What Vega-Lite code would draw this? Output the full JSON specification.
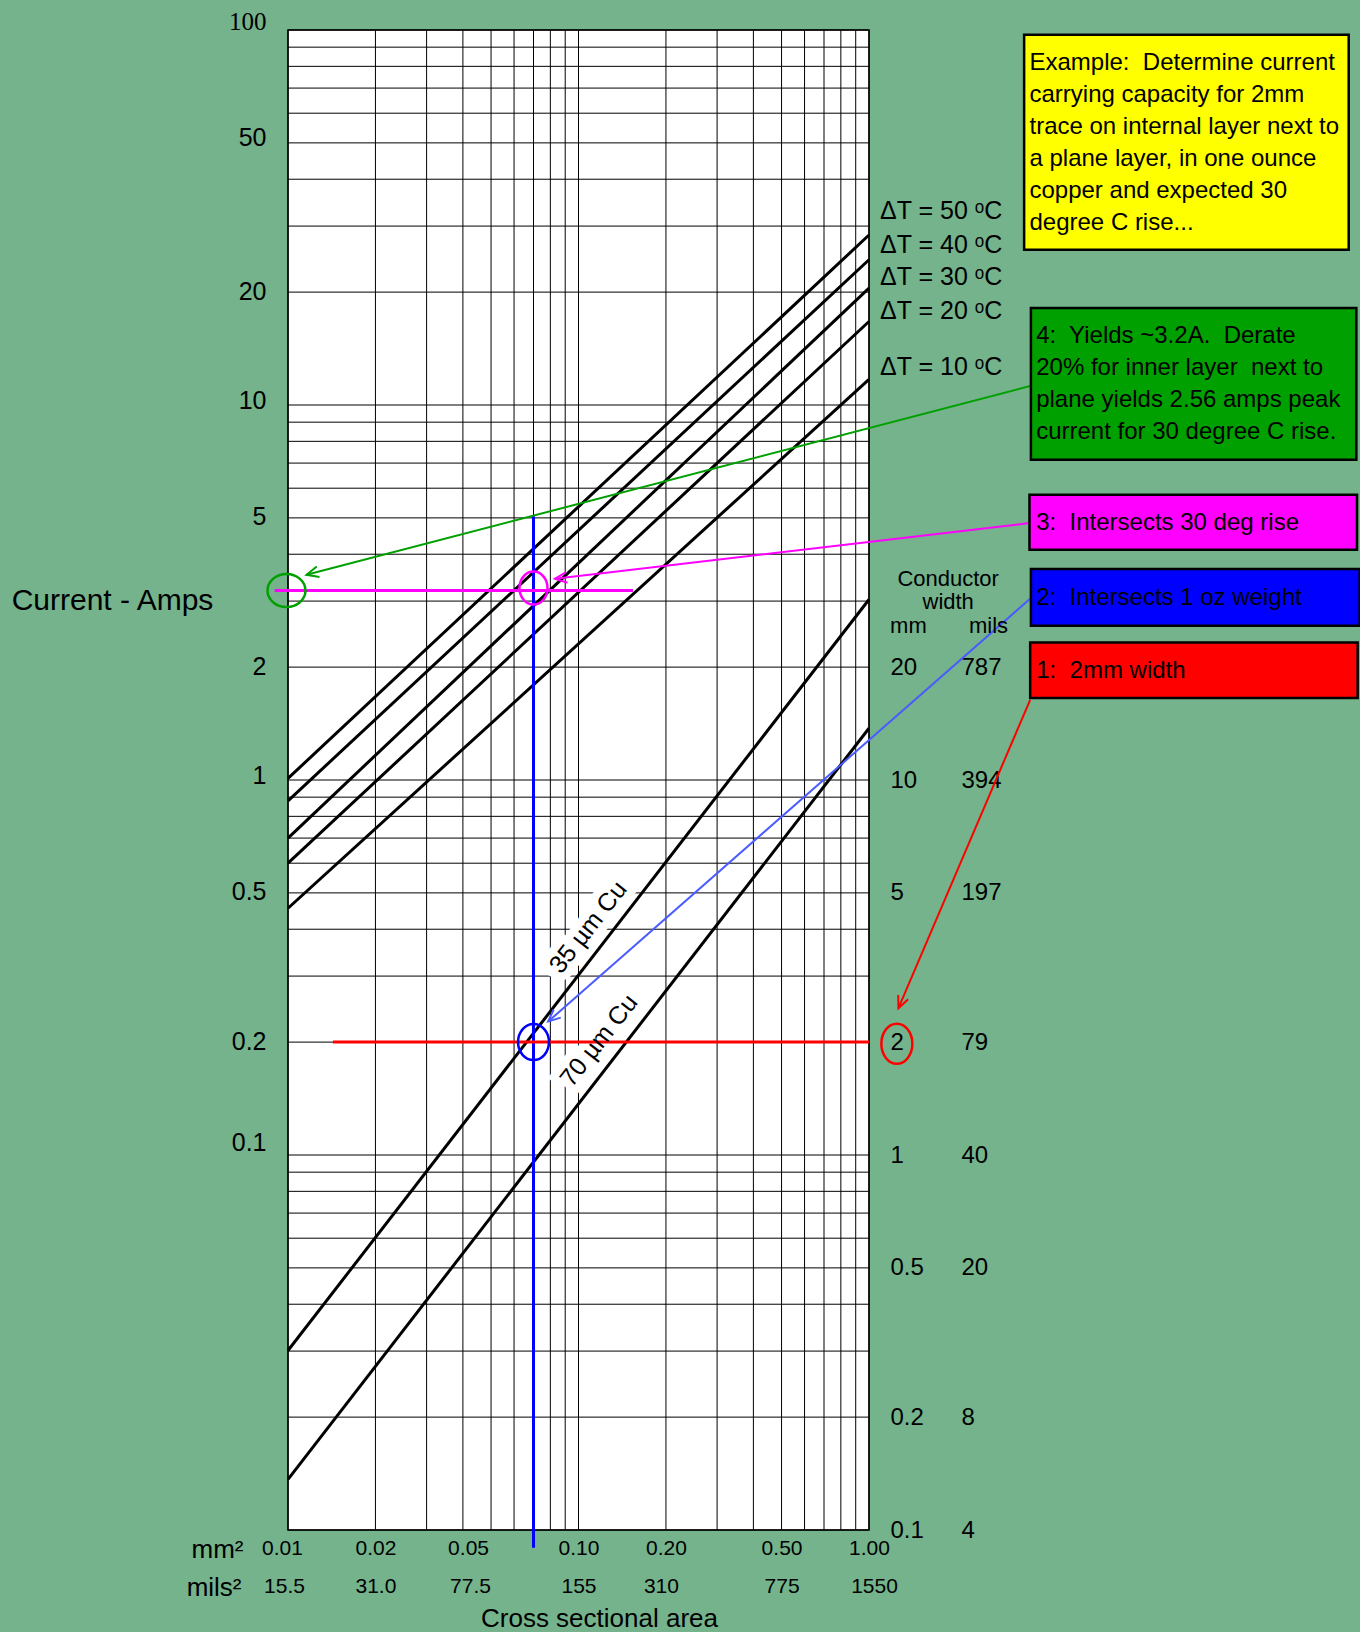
{
  "$schema": "https://vega.github.io/schema/vega-lite/v6.json",
  "width": 581,
  "height": 1500,
  "autosize": {"type": "none"},
  "padding": {"left": 288, "top": 30, "right": 491, "bottom": 102},
  "background": "#74b38b",
  "config": {
    "view": {"fill": "white", "stroke": "black", "strokeWidth": 1.5},
    "font": "Liberation Sans",
    "axis": {"grid": false, "domain": false, "ticks": false, "tickSize": 0, "labelColor": "black", "titleColor": "black", "titleFontWeight": "normal", "labelFlush": false, "labelOverlap": false, "labelFont": "Liberation Sans", "titleFont": "Liberation Sans"}
  },
  "resolve": {"axis": {"x": "independent", "y": "independent"}, "scale": {"color": "independent"}},
  "datasets": {
    "gridx": [
      {"area": 0.01}, {"area": 0.02}, {"area": 0.03}, {"area": 0.04}, {"area": 0.05}, {"area": 0.06}, {"area": 0.07}, {"area": 0.08}, {"area": 0.09},
      {"area": 0.1}, {"area": 0.2}, {"area": 0.3}, {"area": 0.4}, {"area": 0.5}, {"area": 0.6}, {"area": 0.7}, {"area": 0.8}, {"area": 0.9}, {"area": 1}
    ],
    "gridy": [
      {"amps": 0.01}, {"amps": 0.02}, {"amps": 0.03}, {"amps": 0.04}, {"amps": 0.05}, {"amps": 0.06}, {"amps": 0.07}, {"amps": 0.08}, {"amps": 0.09},
      {"amps": 0.1}, {"amps": 0.2}, {"amps": 0.3}, {"amps": 0.4}, {"amps": 0.5}, {"amps": 0.6}, {"amps": 0.7}, {"amps": 0.8}, {"amps": 0.9},
      {"amps": 1}, {"amps": 2}, {"amps": 3}, {"amps": 4}, {"amps": 5}, {"amps": 6}, {"amps": 7}, {"amps": 8}, {"amps": 9},
      {"amps": 10}, {"amps": 20}, {"amps": 30}, {"amps": 40}, {"amps": 50}, {"amps": 60}, {"amps": 70}, {"amps": 80}, {"amps": 90},
      {"amps": 100}
    ],
    "curves": [
      {"series": "dT50", "area": 0.01, "amps": 1.01}, {"series": "dT50", "area": 1, "amps": 28.4},
      {"series": "dT40", "area": 0.01, "amps": 0.88}, {"series": "dT40", "area": 1, "amps": 24.4},
      {"series": "dT30", "area": 0.01, "amps": 0.7}, {"series": "dT30", "area": 1, "amps": 20.5},
      {"series": "dT20", "area": 0.01, "amps": 0.6}, {"series": "dT20", "area": 1, "amps": 16.7},
      {"series": "dT10", "area": 0.01, "amps": 0.455}, {"series": "dT10", "area": 1, "amps": 11.7},
      {"series": "Cu35", "area": 0.01, "amps": 0.0301}, {"series": "Cu35", "area": 1, "amps": 3.03},
      {"series": "Cu70", "area": 0.01, "amps": 0.01364}, {"series": "Cu70", "area": 1, "amps": 1.374}
    ],
    "guides": [
      {"guide": "blue", "area": 0.07, "amps": 5.05}, {"guide": "blue", "area": 0.07, "amps": 0.00897},
      {"guide": "magenta", "area": 0.009, "amps": 3.2}, {"guide": "magenta", "area": 0.154, "amps": 3.2},
      {"guide": "red", "area": 0.01427, "amps": 0.2}, {"guide": "red", "area": 1.0, "amps": 0.2}
    ],
    "arrows": [
      {"arrow": "green", "area": 3.609, "amps": 11.25}, {"arrow": "green", "area": 0.01158, "amps": 3.525},
      {"arrow": "magenta", "area": 3.568, "amps": 4.843}, {"arrow": "magenta", "area": 0.08296, "amps": 3.44},
      {"arrow": "blue", "area": 3.609, "amps": 3.056}, {"arrow": "blue", "area": 0.07865, "amps": 0.227},
      {"arrow": "red", "area": 3.588, "amps": 1.636}, {"arrow": "red", "area": 1.263, "amps": 0.2464}
    ],
    "tips": [
      {"arrow": "green", "area": 0.01158, "amps": 3.525},
      {"arrow": "magenta", "area": 0.08296, "amps": 3.44},
      {"arrow": "blue", "area": 0.07865, "amps": 0.227},
      {"arrow": "red", "area": 1.263, "amps": 0.2464}
    ],
    "rings": [
      {"ring": "magenta", "area": 0.07, "amps": 3.25},
      {"ring": "blue", "area": 0.07, "amps": 0.2},
      {"ring": "green", "area": 0.00988, "amps": 3.2},
      {"ring": "red", "area": 1.247, "amps": 0.198}
    ],
    "boxes": [
      {"box": "yellow", "area_lo": 3.42, "area_hi": 44.8, "amps_hi": 97.1, "amps_lo": 25.94},
      {"box": "green", "area_lo": 3.609, "area_hi": 47.6, "amps_hi": 18.13, "amps_lo": 7.14},
      {"box": "magenta", "area_lo": 3.568, "area_hi": 47.86, "amps_hi": 5.761, "amps_lo": 4.111},
      {"box": "blue", "area_lo": 3.609, "area_hi": 48.87, "amps_hi": 3.651, "amps_lo": 2.578},
      {"box": "red", "area_lo": 3.588, "area_hi": 48.1, "amps_hi": 2.326, "amps_lo": 1.654}
    ],
    "notes": [
      {"note": "Example:\u00a0 Determine current\ncarrying capacity for 2mm\ntrace on internal layer next to\na plane layer, in one ounce\ncopper and expected 30\ndegree C rise...", "area": 3.568, "amps": 81.6},
      {"note": "4:\u00a0 Yields ~3.2A.\u00a0 Derate\n20% for inner layer\u00a0 next to\nplane yields 2.56 amps peak\ncurrent for 30 degree C rise.", "area": 3.763, "amps": 15.23},
      {"note": "3:\u00a0 Intersects 30 deg rise", "area": 3.763, "amps": 4.843},
      {"note": "2:\u00a0 Intersects 1 oz weight", "area": 3.763, "amps": 3.056},
      {"note": "1:\u00a0 2mm width", "area": 3.763, "amps": 1.955}
    ],
    "dtlabels": [
      {"label": "ΔT = 50 ᵒC", "area": 1.092, "amps": 33.0},
      {"label": "ΔT = 40 ᵒC", "area": 1.092, "amps": 26.7},
      {"label": "ΔT = 30 ᵒC", "area": 1.092, "amps": 22.0},
      {"label": "ΔT = 20 ᵒC", "area": 1.092, "amps": 17.8},
      {"label": "ΔT = 10 ᵒC", "area": 1.092, "amps": 12.6}
    ],
    "headers": [
      {"label": "Conductor\nwidth", "area": 1.873, "amps": 3.434},
      {"label": "mm", "area": 1.367, "amps": 2.567},
      {"label": "mils", "area": 2.578, "amps": 2.567}
    ],
    "culabels": [
      {"label": "35 µm Cu", "area": 0.108, "amps": 0.405},
      {"label": "70 µm Cu", "area": 0.1176, "amps": 0.202}
    ]
  },
  "layer": [
    {
      "data": {"name": "gridx"},
      "mark": {"type": "rule", "color": "black", "strokeWidth": 1},
      "encoding": {
        "x": {"field": "area", "type": "quantitative", "scale": {"type": "log", "domain": [0.01, 1], "nice": false},
          "axis": {"orient": "bottom", "values": [0.01, 0.02, 0.05, 0.1, 0.2, 0.5, 1], "labelExpr": "format(datum.value, '.2f')",
            "labelFontSize": 21, "labelPadding": 18, "labelBaseline": "middle", "labelAlign": "center",
            "labelOffset": {"condition": [{"test": "datum.value == 0.05", "value": -23}, {"test": "datum.value == 0.01", "value": -6}], "value": 0},
            "title": "mm²", "titleX": -45, "titleY": 19, "titleAlign": "right", "titleBaseline": "middle", "titleFontSize": 26, "titleAngle": 0}}
      }
    },
    {
      "data": {"name": "gridy"},
      "mark": {"type": "rule", "color": "black", "strokeWidth": 1},
      "encoding": {
        "y": {"field": "amps", "type": "quantitative", "scale": {"type": "log", "domain": [0.01, 100], "nice": false},
          "axis": {"orient": "right", "values": [0.01, 0.02, 0.05, 0.1, 0.2, 0.5, 1, 2], "labelExpr": "format(datum.value * 10, '~g')",
            "labelFontSize": 24, "labelPadding": 21, "labelAlign": "left", "labelBaseline": "middle", "title": null}}
      }
    },
    {
      "data": {"name": "culabels"},
      "mark": {"type": "text", "fontSize": 25, "angle": 308, "align": "center", "baseline": "middle", "fill": "white", "stroke": "white", "strokeWidth": 16},
      "encoding": {
        "x": {"field": "area", "type": "quantitative", "scale": {"type": "log", "domain": [0.01, 1], "nice": false}, "axis": null},
        "y": {"field": "amps", "type": "quantitative", "scale": {"type": "log", "domain": [0.01, 100], "nice": false}, "axis": null},
        "text": {"field": "label"}
      }
    },
    {
      "data": {"name": "curves"},
      "mark": {"type": "line", "color": "black", "strokeWidth": 3},
      "encoding": {
        "x": {"field": "area", "type": "quantitative", "scale": {"type": "log", "domain": [0.01, 1], "nice": false},
          "axis": {"orient": "bottom", "values": [0.01, 0.02, 0.05, 0.1, 0.2, 0.5, 1],
            "labelExpr": "datum.value < 0.1 ? format(datum.value * 1550, '.1f') : format(datum.value * 1550, 'd')",
            "labelFontSize": 21, "labelPadding": 56, "labelBaseline": "middle", "labelAlign": "center",
            "labelOffset": {"condition": [{"test": "datum.value == 0.05", "value": -21}, {"test": "datum.value == 0.01", "value": -4}, {"test": "datum.value == 0.2", "value": -5}, {"test": "datum.value == 1", "value": 5}], "value": 0},
            "title": "mils²", "titleX": -47, "titleY": 57, "titleAlign": "right", "titleBaseline": "middle", "titleFontSize": 26, "titleAngle": 0}},
        "y": {"field": "amps", "type": "quantitative", "scale": {"type": "log", "domain": [0.01, 100], "nice": false},
          "axis": {"orient": "left", "values": [0.1, 0.2, 0.5, 1, 2, 5, 10, 20, 50, 100],
            "labelExpr": "datum.value >= 1 ? format(datum.value, 'd') : format(datum.value, '.1f')",
            "labelFontSize": 25, "labelPadding": 22, "labelAlign": "right", "labelBaseline": "middle",
            "labelFont": {"condition": {"test": "datum.value == 100", "value": "Liberation Serif"}, "value": "Liberation Sans"},
            "labelOffset": {"condition": [{"test": "datum.value == 100", "value": -9}, {"test": "datum.value == 0.1", "value": -13}, {"test": "datum.value == 50 || datum.value == 10 || datum.value == 1", "value": -5}], "value": -1},
            "title": "Current - Amps", "titleAngle": 0, "titleX": -176, "titleY": 570, "titleAlign": "center", "titleBaseline": "middle", "titleFontSize": 30}},
        "detail": {"field": "series"}
      }
    },
    {
      "data": {"name": "guides"},
      "mark": {"type": "line", "strokeWidth": 3},
      "encoding": {
        "x": {"field": "area", "type": "quantitative", "scale": {"type": "log", "domain": [0.01, 1], "nice": false},
          "axis": {"orient": "bottom", "labels": false, "title": "Cross sectional area", "titleX": 311, "titleY": 88, "titleAlign": "center", "titleBaseline": "middle", "titleFontSize": 26, "titleAngle": 0}},
        "y": {"field": "amps", "type": "quantitative", "scale": {"type": "log", "domain": [0.01, 100], "nice": false},
          "axis": {"orient": "right", "values": [0.01, 0.02, 0.05, 0.1, 0.2, 0.5, 1, 2],
            "labelExpr": "datum.value == 0.01 ? '4' : datum.value == 0.02 ? '8' : datum.value == 0.05 ? '20' : datum.value == 0.1 ? '40' : datum.value == 0.2 ? '79' : datum.value == 0.5 ? '197' : datum.value == 1 ? '394' : '787'",
            "labelFontSize": 24, "labelPadding": 92, "labelAlign": "left", "labelBaseline": "middle", "title": null}},
        "color": {"field": "guide", "type": "nominal", "scale": {"domain": ["blue", "magenta", "red"], "range": ["#0000ff", "#ff00ff", "#ff0000"]}, "legend": null}
      }
    },
    {
      "data": {"name": "arrows"},
      "mark": {"type": "line", "strokeWidth": 2},
      "encoding": {
        "x": {"field": "area", "type": "quantitative", "scale": {"type": "log", "domain": [0.01, 1], "nice": false}, "axis": null},
        "y": {"field": "amps", "type": "quantitative", "scale": {"type": "log", "domain": [0.01, 100], "nice": false}, "axis": null},
        "color": {"field": "arrow", "type": "nominal", "scale": {"domain": ["green", "magenta", "blue", "red"], "range": ["#00a000", "#ff00ff", "#4a5cff", "#ff0000"]}, "legend": null}
      }
    },
    {
      "data": {"name": "tips"},
      "transform": [{"filter": "datum.arrow == 'green'"}],
      "mark": {"type": "point", "shape": "M-1,-0.45L0,0L-1,0.45", "size": 576, "filled": false, "stroke": "#00a000", "strokeWidth": 2, "opacity": 1, "angle": 165.4},
      "encoding": {
        "x": {"field": "area", "type": "quantitative", "scale": {"type": "log", "domain": [0.01, 1], "nice": false}, "axis": null},
        "y": {"field": "amps", "type": "quantitative", "scale": {"type": "log", "domain": [0.01, 100], "nice": false}, "axis": null}
      }
    },
    {
      "data": {"name": "tips"},
      "transform": [{"filter": "datum.arrow == 'magenta'"}],
      "mark": {"type": "point", "shape": "M-1,-0.45L0,0L-1,0.45", "size": 576, "filled": false, "stroke": "#ff00ff", "strokeWidth": 2, "opacity": 1, "angle": 173.3},
      "encoding": {
        "x": {"field": "area", "type": "quantitative", "scale": {"type": "log", "domain": [0.01, 1], "nice": false}, "axis": null},
        "y": {"field": "amps", "type": "quantitative", "scale": {"type": "log", "domain": [0.01, 100], "nice": false}, "axis": null}
      }
    },
    {
      "data": {"name": "tips"},
      "transform": [{"filter": "datum.arrow == 'blue'"}],
      "mark": {"type": "point", "shape": "M-1,-0.45L0,0L-1,0.45", "size": 576, "filled": false, "stroke": "#4a5cff", "strokeWidth": 2, "opacity": 1, "angle": 138.7},
      "encoding": {
        "x": {"field": "area", "type": "quantitative", "scale": {"type": "log", "domain": [0.01, 1], "nice": false}, "axis": null},
        "y": {"field": "amps", "type": "quantitative", "scale": {"type": "log", "domain": [0.01, 100], "nice": false}, "axis": null}
      }
    },
    {
      "data": {"name": "tips"},
      "transform": [{"filter": "datum.arrow == 'red'"}],
      "mark": {"type": "point", "shape": "M-1,-0.45L0,0L-1,0.45", "size": 576, "filled": false, "stroke": "#ff0000", "strokeWidth": 2, "opacity": 1, "angle": 113.1},
      "encoding": {
        "x": {"field": "area", "type": "quantitative", "scale": {"type": "log", "domain": [0.01, 1], "nice": false}, "axis": null},
        "y": {"field": "amps", "type": "quantitative", "scale": {"type": "log", "domain": [0.01, 100], "nice": false}, "axis": null}
      }
    },
    {
      "data": {"name": "rings"},
      "transform": [{"filter": "datum.ring == 'magenta'"}],
      "mark": {"type": "point", "shape": "M0,-1C0.4695,-1,0.85,-0.5523,0.85,0C0.85,0.5523,0.4695,1,0,1C-0.4695,1,-0.85,0.5523,-0.85,0C-0.85,-0.5523,-0.4695,-1,0,-1Z", "size": 1089, "filled": false, "stroke": "#ff00ff", "strokeWidth": 2.5, "opacity": 1},
      "encoding": {
        "x": {"field": "area", "type": "quantitative", "scale": {"type": "log", "domain": [0.01, 1], "nice": false}, "axis": null},
        "y": {"field": "amps", "type": "quantitative", "scale": {"type": "log", "domain": [0.01, 100], "nice": false}, "axis": null}
      }
    },
    {
      "data": {"name": "rings"},
      "transform": [{"filter": "datum.ring == 'blue'"}],
      "mark": {"type": "point", "shape": "M0,-1C0.4750,-1,0.86,-0.5523,0.86,0C0.86,0.5523,0.4750,1,0,1C-0.4750,1,-0.86,0.5523,-0.86,0C-0.86,-0.5523,-0.4750,-1,0,-1Z", "size": 1296, "filled": false, "stroke": "#0000ff", "strokeWidth": 2.5, "opacity": 1},
      "encoding": {
        "x": {"field": "area", "type": "quantitative", "scale": {"type": "log", "domain": [0.01, 1], "nice": false}, "axis": null},
        "y": {"field": "amps", "type": "quantitative", "scale": {"type": "log", "domain": [0.01, 100], "nice": false}, "axis": null}
      }
    },
    {
      "data": {"name": "rings"},
      "transform": [{"filter": "datum.ring == 'green'"}],
      "mark": {"type": "point", "shape": "M-1,0C-1,-0.4805,-0.5523,-0.87,0,-0.87C0.5523,-0.87,1,-0.4805,1,0C1,0.4805,0.5523,0.87,0,0.87C-0.5523,0.87,-1,0.4805,-1,0Z", "size": 1444, "filled": false, "stroke": "#00a000", "strokeWidth": 2.5, "opacity": 1},
      "encoding": {
        "x": {"field": "area", "type": "quantitative", "scale": {"type": "log", "domain": [0.01, 1], "nice": false}, "axis": null},
        "y": {"field": "amps", "type": "quantitative", "scale": {"type": "log", "domain": [0.01, 100], "nice": false}, "axis": null}
      }
    },
    {
      "data": {"name": "rings"},
      "transform": [{"filter": "datum.ring == 'red'"}],
      "mark": {"type": "point", "shape": "M0,-1C0.4280,-1,0.775,-0.5523,0.775,0C0.775,0.5523,0.4280,1,0,1C-0.4280,1,-0.775,0.5523,-0.775,0C-0.775,-0.5523,-0.4280,-1,0,-1Z", "size": 1600, "filled": false, "stroke": "#ff0000", "strokeWidth": 2.5, "opacity": 1},
      "encoding": {
        "x": {"field": "area", "type": "quantitative", "scale": {"type": "log", "domain": [0.01, 1], "nice": false}, "axis": null},
        "y": {"field": "amps", "type": "quantitative", "scale": {"type": "log", "domain": [0.01, 100], "nice": false}, "axis": null}
      }
    },
    {
      "data": {"name": "boxes"},
      "mark": {"type": "rect", "stroke": "black", "strokeWidth": 2.5},
      "encoding": {
        "x": {"field": "area_lo", "type": "quantitative", "scale": {"type": "log", "domain": [0.01, 1], "nice": false}, "axis": null},
        "x2": {"field": "area_hi"},
        "y": {"field": "amps_hi", "type": "quantitative", "scale": {"type": "log", "domain": [0.01, 100], "nice": false}, "axis": null},
        "y2": {"field": "amps_lo"},
        "fill": {"field": "box", "type": "nominal", "scale": {"domain": ["yellow", "green", "magenta", "blue", "red"], "range": ["#ffff00", "#00a000", "#ff00ff", "#0000ff", "#ff0000"]}, "legend": null}
      }
    },
    {
      "data": {"name": "notes"},
      "mark": {"type": "text", "fontSize": 24, "align": "left", "baseline": "middle", "lineBreak": "\n", "lineHeight": 32, "color": "black"},
      "encoding": {
        "x": {"field": "area", "type": "quantitative", "scale": {"type": "log", "domain": [0.01, 1], "nice": false}, "axis": null},
        "y": {"field": "amps", "type": "quantitative", "scale": {"type": "log", "domain": [0.01, 100], "nice": false}, "axis": null},
        "text": {"field": "note"}
      }
    },
    {
      "data": {"name": "dtlabels"},
      "mark": {"type": "text", "fontSize": 25, "align": "left", "baseline": "middle", "color": "black"},
      "encoding": {
        "x": {"field": "area", "type": "quantitative", "scale": {"type": "log", "domain": [0.01, 1], "nice": false}, "axis": null},
        "y": {"field": "amps", "type": "quantitative", "scale": {"type": "log", "domain": [0.01, 100], "nice": false}, "axis": null},
        "text": {"field": "label"}
      }
    },
    {
      "data": {"name": "headers"},
      "mark": {"type": "text", "fontSize": 22, "align": "center", "baseline": "middle", "lineBreak": "\n", "lineHeight": 23, "color": "black"},
      "encoding": {
        "x": {"field": "area", "type": "quantitative", "scale": {"type": "log", "domain": [0.01, 1], "nice": false}, "axis": null},
        "y": {"field": "amps", "type": "quantitative", "scale": {"type": "log", "domain": [0.01, 100], "nice": false}, "axis": null},
        "text": {"field": "label"}
      }
    },
    {
      "data": {"name": "culabels"},
      "mark": {"type": "text", "fontSize": 25, "angle": 308, "align": "center", "baseline": "middle", "color": "black"},
      "encoding": {
        "x": {"field": "area", "type": "quantitative", "scale": {"type": "log", "domain": [0.01, 1], "nice": false}, "axis": null},
        "y": {"field": "amps", "type": "quantitative", "scale": {"type": "log", "domain": [0.01, 100], "nice": false}, "axis": null},
        "text": {"field": "label"}
      }
    }
  ]
}
